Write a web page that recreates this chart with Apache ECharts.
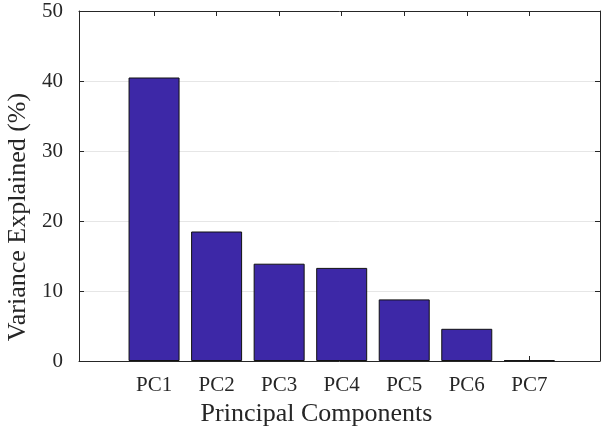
<!DOCTYPE html>
<html>
<head>
<meta charset="utf-8">
<script src="https://cdn.jsdelivr.net/npm/echarts@6/dist/echarts.min.js"></script>
<style>html,body{margin:0;padding:0;background:#fff;}#chart{width:601px;height:432px;}</style>
</head>
<body>
<div id="chart"></div>
<script>
const categories = ['PC1', 'PC2', 'PC3', 'PC4', 'PC5', 'PC6', 'PC7'];
const variance = [40.5, 18.5, 13.9, 13.3, 8.8, 4.6, 0.1];
const yTicks = [0, 10, 20, 30, 40, 50];
const xTitle = 'Principal Components';
const yTitle = 'Variance Explained (%)';

const positions = categories.map((c, i) => i + 1);
const barData = variance.map((v, i) => [positions[i], v]);
const font = 'Liberation Serif';
const axisColor = '#262626';

const chart = echarts.init(document.getElementById('chart'));
chart.setOption({
  animation: false,
  backgroundColor: '#ffffff',
  grid: { left: 79, right: 1, top: 11, bottom: 71, containLabel: false, outerBoundsMode: 'none' },
  xAxis: [
    {
      type: 'value', position: 'bottom', min: -0.2, max: 8.13,
      name: xTitle, nameLocation: 'middle', nameGap: 39,
      nameTextStyle: { fontFamily: font, fontSize: 26, color: axisColor, padding: [0, 46, 0, 0] },
      axisLine: { show: true, onZero: false, lineStyle: { color: axisColor, width: 1 } },
      axisTick: { show: true, inside: true, length: 5, customValues: positions, lineStyle: { color: axisColor } },
      axisLabel: { show: true, customValues: positions, margin: 14, fontFamily: font, fontSize: 21, color: axisColor,
        formatter: v => categories[Math.round(v) - 1] || '' },
      splitLine: { show: false }
    },
    {
      type: 'value', position: 'top', min: -0.2, max: 8.13,
      axisLine: { show: true, onZero: false, lineStyle: { color: axisColor, width: 1 } },
      axisTick: { show: true, inside: true, length: 5, customValues: positions, lineStyle: { color: axisColor } },
      axisLabel: { show: false },
      splitLine: { show: false }
    }
  ],
  yAxis: [
    {
      type: 'value', position: 'left', min: 0, max: 50, interval: 10,
      name: yTitle, nameLocation: 'middle', nameGap: 43,
      nameTextStyle: { fontFamily: font, fontSize: 26, color: axisColor, padding: [0, 62, 0, 0] },
      axisLine: { show: true, onZero: false, lineStyle: { color: axisColor, width: 1 } },
      axisTick: { show: true, inside: true, length: 5, lineStyle: { color: axisColor } },
      axisLabel: { show: true, margin: 16, fontFamily: font, fontSize: 21, color: axisColor,
        formatter: v => yTicks.includes(v) ? String(v) : '' },
      splitLine: { show: true, lineStyle: { color: '#e6e6e6', width: 1 } }
    },
    {
      type: 'value', position: 'right', min: 0, max: 50, interval: 10,
      axisLine: { show: true, onZero: false, lineStyle: { color: axisColor, width: 1 } },
      axisTick: { show: true, inside: true, length: 5, lineStyle: { color: axisColor } },
      axisLabel: { show: false },
      splitLine: { show: false }
    }
  ],
  series: [
    {
      type: 'bar', xAxisIndex: 0, yAxisIndex: 0,
      data: barData, barWidth: 51,
      itemStyle: { color: '#3d28a7', borderColor: '#111111', borderWidth: 1 }
    }
  ]
});
</script>
</body>
</html>
